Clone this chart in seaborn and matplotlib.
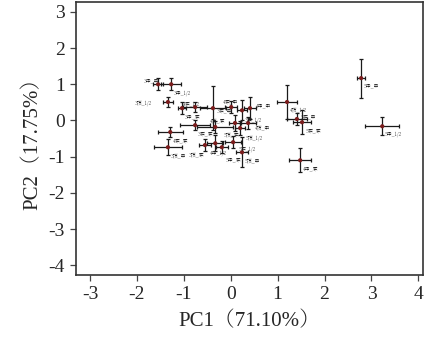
import matplotlib
matplotlib.use("Agg")
import matplotlib.pyplot as plt
import seaborn as sns
import pandas as pd

# PCA scores (mean +/- error) for each sample
names = ["3中_中", "3中_1/2", "3顶_1/2", "3中_底", "4底_1/2", "3底_中", "4底_中",
         "3底_1/2", "4中_中", "4顶_中", "5顶_1/2", "3底_底", "4顶_底", "5顶_底",
         "4底_底", "3顶_中", "3顶_底", "4中_1/2", "5中_底", "5底_1/2", "5顶_中",
         "4顶_1/2", "5底_中", "5底_底", "4中_底", "5中_中", "5中_1/2"]
pc1 = [-1.55, -1.27, -1.34, -1.04, -0.76, -0.38, 0.01,
       0.24, 0.41, 0.37, 0.20, -0.76, -0.33, 0.09,
       -1.29, -1.34, -0.55, -0.33, -0.19, 0.05, 0.24,
       1.20, 1.41, 1.52, 1.48, 2.78, 3.23]
pc2 = [1.00, 1.00, 0.51, 0.34, 0.37, 0.34, 0.37,
       0.28, 0.34, -0.07, -0.21, -0.13, -0.18, -0.07,
       -0.32, -0.74, -0.68, -0.63, -0.74, -0.60, -0.88,
       0.51, 0.04, -0.05, -1.10, 1.17, -0.16]
pc1_err = [0.11, 0.21, 0.11, 0.09, 0.26, 0.28, 0.13,
           0.11, 0.13, 0.17, 0.11, 0.32, 0.38, 0.13,
           0.27, 0.30, 0.13, 0.17, 0.13, 0.17, 0.13,
           0.21, 0.21, 0.19, 0.23, 0.09, 0.36]
pc2_err = [0.17, 0.17, 0.14, 0.17, 0.14, 0.61, 0.17,
           0.28, 0.30, 0.17, 0.19, 0.14, 0.17, 0.22,
           0.14, 0.22, 0.17, 0.22, 0.17, 0.17, 0.41,
           0.47, 0.17, 0.33, 0.33, 0.54, 0.25]

df = pd.DataFrame({"name": names, "PC1": pc1, "PC2": pc2,
                   "e1": pc1_err, "e2": pc2_err})

sns.set_style("ticks")
serif = ["Liberation Serif", "Noto Serif SC", "Noto Sans CJK SC"]
plt.rcParams["font.family"] = serif
plt.rcParams["axes.unicode_minus"] = False

fig = plt.figure(figsize=(4.33, 3.51), dpi=100)
ax = fig.add_axes([0.1755, 0.2165, 0.8015, 0.7775])

ax.errorbar(df["PC1"], df["PC2"], xerr=df["e1"], yerr=df["e2"], fmt="none",
            ecolor="#1a1a1a", elinewidth=0.9, capsize=1.6, capthick=0.9, zorder=2)
sns.scatterplot(data=df, x="PC1", y="PC2", ax=ax, color="#7a1c1c", s=9,
                edgecolor="none", zorder=3, legend=False)

# label placement (offset in points)
offsets = {"3中_中": (-10, 3), "3顶_1/2": (-24, -1), "4底_1/2": (-9, 2),
           "4中_中": (4, 2), "5中_中": (2, -5), "5中_1/2": (2, -6),
           "5底_中": (3, 2), "5底_底": (3, -6), "5顶_1/2": (4, -7),
           "4顶_中": (5, -3), "4中_1/2": (-4, -7), "5中_底": (3, -9),
           "5底_1/2": (4, -5), "3顶_底": (-12, -7), "5顶_底": (-8, -8),
           "4底_中": (-6, 4), "3底_1/2": (2, -7), "4顶_底": (-4, 5),
           "3底_中": (3, -2)}
for n, x, y in zip(names, pc1, pc2):
    dx, dy = offsets.get(n, (2, -6))
    ax.annotate(n, (x, y), xytext=(dx, dy), textcoords="offset points",
                fontsize=3.6, family=["Noto Serif SC", "Noto Sans CJK SC"],
                color="#222222", va="center", ha="left")

ax.set_xlim(-3.30, 4.10)
ax.set_ylim(-4.27, 3.27)
ax.set_xticks(range(-3, 5))
ax.set_yticks(range(-4, 4))
ax.tick_params(labelsize=14, length=4, width=0.9, color="#444444", pad=4)
for s in ax.spines.values():
    s.set_color("#333333")
    s.set_linewidth(1.2)
ax.set_xlabel("PC1（71.10%）", fontsize=15, family=serif, labelpad=6)
ax.set_ylabel("PC2（17.75%）", fontsize=15, family=serif, labelpad=4)

fig.savefig("out.png", dpi=100)
